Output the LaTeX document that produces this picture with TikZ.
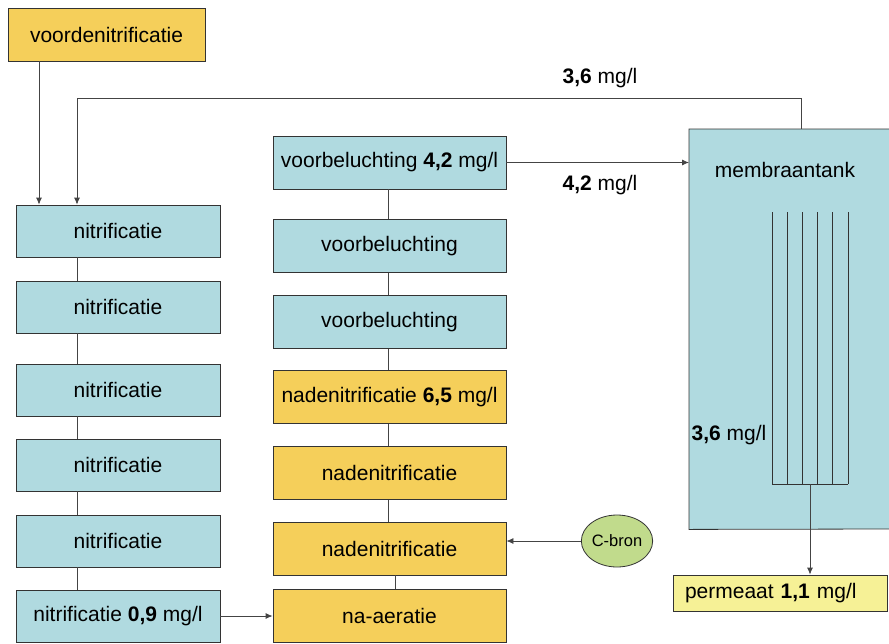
\documentclass[tikz,border=0pt]{standalone}
\usepackage{fontspec}
\setmainfont{Liberation Sans}
\usetikzlibrary{arrows.meta,shapes.geometric}
\definecolor{bluebox}{HTML}{B0DAE0}
\definecolor{yellowbox}{HTML}{F5CF5A}
\definecolor{permbox}{HTML}{F6F196}
\definecolor{greenbox}{HTML}{C1DB8C}
\definecolor{edge}{HTML}{333333}
\definecolor{wire}{HTML}{444444}
\tikzset{
  x=1pt, y=-1pt,
  every node/.style={font=\fontsize{21}{25}\selectfont, inner sep=0pt},
  bbox/.style={draw=edge, line width=0.8pt, fill=bluebox, minimum width=204pt, minimum height=52pt},
  mbox/.style={draw=edge, line width=0.8pt, fill=bluebox, minimum width=233pt, minimum height=53pt},
  ybox/.style={draw=edge, line width=0.8pt, fill=yellowbox, minimum width=233pt, minimum height=53pt},
  conn/.style={draw=wire, line width=0.8pt},
  arr/.style={conn, -{Latex[length=7pt,width=6pt]}},
  lbl/.style={font=\fontsize{21}{25}\selectfont},
}
\begin{document}
\begin{tikzpicture}
\useasboundingbox (0,0) rectangle (889,643);
% top left
\node[draw=edge, line width=0.8pt, fill=yellowbox, minimum width=197pt, minimum height=53pt] (vdn) at (106.5,34.5) {voordenitrificatie};
% left column
\node[bbox] (n1) at (118,231) {nitrificatie};
\node[bbox] (n2) at (118,307) {nitrificatie};
\node[bbox] (n3) at (118,390) {nitrificatie};
\node[bbox] (n4) at (118,465) {nitrificatie};
\node[bbox] (n5) at (118,541) {nitrificatie};
\node[bbox] (n6) at (118,616) {nitrificatie \textbf{0,9} mg/l};
% middle column
\node[mbox] (v1) at (389.5,162.5) {voorbeluchting \textbf{4,2} mg/l};
\node[mbox] (v2) at (389.5,246) {voorbeluchting};
\node[mbox] (v3) at (389.5,322) {voorbeluchting};
\node[ybox] (d1) at (389.5,397) {nadenitrificatie \textbf{6,5} mg/l};
\node[ybox] (d2) at (389.5,473) {nadenitrificatie};
\node[ybox] (d3) at (389.5,548.5) {nadenitrificatie};
\node[ybox] (na) at (389.5,616) {na-aeratie};
% membrane tank
\node[fill=bluebox, minimum width=200pt, minimum height=400pt, anchor=north west] (tank) at (689,129) {};
\draw[edge, line width=0.8pt] (889,129) -- (tank.north west) -- (tank.south west) -- (889,529);
\node (tanklbl) at (785,170) {membraantank};
\foreach \xx in {772,787,802,817,832,848} {
  \draw[edge, line width=0.8pt] (\xx,212) -- (\xx,484);
}
\draw[edge, line width=0.8pt] (772,484) -- (848,484);
\coordinate (mbot) at (810,484);
\node[lbl] (t36) at (729,435) {\textbf{3,6} mg/l};
% permeaat
\node[draw=edge, line width=0.8pt, fill=permbox, text width=190pt, align=left, inner xsep=12pt, minimum height=36pt] (perm) at (780,593) {permeaat \textbf{1,1} mg/l};
% C-bron
\node[draw=edge, line width=0.8pt, fill=greenbox, ellipse, minimum width=68pt, minimum height=52pt, font=\fontsize{16.5}{19}\selectfont] (cb) at (617,541) {C-bron};
% labels
\node[lbl] (l36) at (600,78) {\textbf{3,6} mg/l};
\node[lbl] (l42) at (600,185) {\textbf{4,2} mg/l};
% connectors left column
\draw[conn] (n1.south -| 77,0) -- (n2.north -| 77,0);
\draw[conn] (n2.south -| 77,0) -- (n3.north -| 77,0);
\draw[conn] (n3.south -| 77,0) -- (n4.north -| 77,0);
\draw[conn] (n4.south -| 77,0) -- (n5.north -| 77,0);
\draw[conn] (n5.south -| 77,0) -- (n6.north -| 77,0);
% middle column
\draw[conn] (v1.south -| 388,0) -- (v2.north -| 388,0);
\draw[conn] (v2.south -| 388,0) -- (v3.north -| 388,0);
\draw[conn] (v3.south -| 388,0) -- (d1.north -| 388,0);
\draw[conn] (d1.south -| 388,0) -- (d2.north -| 388,0);
\draw[conn] (d2.south -| 388,0) -- (d3.north -| 388,0);
\draw[conn] (d3.south -| 395,0) -- (na.north -| 395,0);
% arrows
\draw[arr] (vdn.south -| 39,0) -- (n1.north -| 39,0);
\draw[arr] (tank.north -| 801,0) -- (801,98) -- (77,98) -- (n1.north -| 77,0);
\draw[arr] (v1.east) -- (v1.east -| tank.west);
\draw[arr] (n6.east) -- (na.west);
\draw[arr] (cb.west) -- (cb.west -| d3.east);
\draw[arr] (mbot) -- (perm.north -| mbot);
\end{tikzpicture}
\end{document}
